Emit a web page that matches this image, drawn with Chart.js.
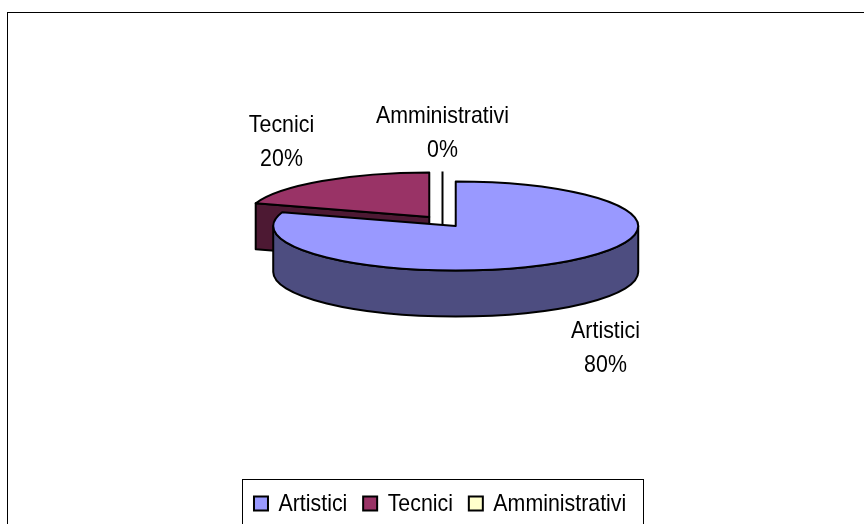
<!DOCTYPE html>
<html>
<head>
<meta charset="utf-8">
<script src="https://cdn.jsdelivr.net/npm/chart.js@4/dist/chart.umd.min.js"></script>
<style>
  html, body { margin: 0; padding: 0; background: #fff; width: 864px; height: 524px; overflow: hidden; }
  canvas { display: block; position: absolute; left: 0; top: -33px; }
</style>
</head>
<body>
<canvas id="torta" width="878" height="567"></canvas>
<script>
// dati
var categories = ["Artistici", "Tecnici", "Amministrativi"];
var values = [80, 20, 0];
var percentLabels = ["80%", "20%", "0%"];

var topColors = ["#9999FF", "#993366", "#FFFFCC"];
var sideColors = ["#4D4D80", "#4D1933", "#808066"];

var FONT = '24px "Liberation Sans", Arial, sans-serif';
var TEXT_NARROW = 0.89; // il testo originale e' alto e stretto
var RADIUS = 182.5;
var SQUASH = 0.244;   // schiacciamento della torta 3D
var DEPTH = 46;
var EXPLODE = 22.5;   // esplosione delle fette
var PAGE_SHIFT = 33;  // il canvas parte sopra la pagina
var PIE_SHIFT = 3.5;  // la legenda non e' centrata sotto la torta
// posizione delle etichette rispetto al centro della torta
var labelShift = [[163, 127], [-161, -79], [0, -88]];

function sliceGeometry(arc) {
  var mid = (arc.startAngle + arc.endAngle) / 2;
  return {
    x: arc.x + PIE_SHIFT + Math.cos(mid) * EXPLODE,
    y: arc.y + Math.sin(mid) * EXPLODE * SQUASH,
    rx: arc.outerRadius,
    ry: arc.outerRadius * SQUASH,
    start: arc.startAngle,
    end: arc.endAngle
  };
}

function edgePoint(g, angle) {
  return { x: g.x + Math.cos(angle) * g.rx, y: g.y + Math.sin(angle) * g.ry };
}

function drawSide(ctx, g, i) {
  ctx.fillStyle = sideColors[i];
  // parete esterna, solo la parte davanti (tra 0 e PI)
  var from = Math.max(g.start, 0);
  var to = Math.min(g.end, Math.PI);
  if (to > from) {
    ctx.beginPath();
    ctx.ellipse(g.x, g.y, g.rx, g.ry, 0, from, to);
    ctx.ellipse(g.x, g.y + DEPTH, g.rx, g.ry, 0, to, from, true);
    ctx.closePath();
    ctx.fill();
    ctx.stroke();
  }
  // faccia di taglio visibile
  if (g.end > g.start && g.start >= Math.PI) {
    var p = edgePoint(g, g.start);
    ctx.beginPath();
    ctx.moveTo(p.x, p.y);
    ctx.lineTo(g.x, g.y);
    ctx.lineTo(g.x, g.y + DEPTH);
    ctx.lineTo(p.x, p.y + DEPTH);
    ctx.closePath();
    ctx.fill();
    ctx.stroke();
  }
}

function drawTop(ctx, g, i) {
  ctx.fillStyle = topColors[i];
  ctx.beginPath();
  ctx.moveTo(g.x, g.y);
  ctx.ellipse(g.x, g.y, g.rx, g.ry, 0, g.start, g.end);
  ctx.closePath();
  ctx.fill();
  ctx.stroke();
}

function narrowText(ctx, text, x, y) {
  ctx.save();
  ctx.translate(x, y);
  ctx.scale(TEXT_NARROW, 1);
  ctx.fillText(text, 0, 0);
  ctx.restore();
}

var pie3d = {
  id: "pie3d",
  beforeDatasetsDraw: function (chart) {
    var ctx = chart.ctx;
    var arcs = chart.getDatasetMeta(0).data;
    ctx.save();
    ctx.lineWidth = 2;
    ctx.strokeStyle = "#000";
    ctx.lineJoin = "round";
    // prima le fette dietro, Artistici per ultima
    [1, 2, 0].forEach(function (i) {
      var g = sliceGeometry(arcs[i]);
      drawSide(ctx, g, i);
      if (values[i] === 0) {
        var p = edgePoint(g, g.start);
        ctx.beginPath();
        ctx.moveTo(p.x, p.y);
        ctx.lineTo(g.x, g.y + DEPTH);
        ctx.stroke();
      } else {
        drawTop(ctx, g, i);
      }
    });
    ctx.restore();
    return false;
  },
  afterDraw: function (chart) {
    var ctx = chart.ctx;
    var arcs = chart.getDatasetMeta(0).data;
    var legend = chart.legend;
    var boxes = legend.legendHitBoxes;
    var last = boxes[boxes.length - 1];
    var labelOpts = legend.options.labels;
    ctx.save();
    ctx.font = FONT;
    ctx.fillStyle = "#000";
    ctx.textBaseline = "middle";
    // etichette delle fette
    ctx.textAlign = "center";
    arcs.forEach(function (arc, i) {
      var x = arc.x + PIE_SHIFT + labelShift[i][0];
      var y = arc.y + labelShift[i][1];
      narrowText(ctx, categories[i], x, y - 17.25);
      narrowText(ctx, percentLabels[i], x, y + 17.25);
    });
    // testo della legenda
    ctx.textAlign = "left";
    boxes.forEach(function (b, i) {
      var x = b.left + labelOpts.boxWidth + labelOpts.font.size / 2;
      narrowText(ctx, categories[i], x, b.top + b.height / 2 + 1);
    });
    // cornice del grafico
    ctx.strokeStyle = "#000";
    ctx.lineWidth = 1;
    ctx.strokeRect(7.5, PAGE_SHIFT + 12.5, chart.width, chart.height - PAGE_SHIFT - 20);
    // cornice della legenda
    var left = Math.round(boxes[0].left - 12) + 0.5;
    var right = Math.round(last.left + last.width + 19) + 0.5;
    ctx.strokeRect(left, legend.top + 3.5, right - left, legend.height + 4);
    ctx.restore();
  }
};

new Chart(document.getElementById("torta"), {
  type: "pie",
  data: {
    labels: categories,
    datasets: [{
      data: values,
      backgroundColor: topColors,
      borderColor: "#000",
      borderWidth: 2,
      radius: RADIUS
    }]
  },
  options: {
    responsive: false,
    animation: false,
    layout: { padding: { bottom: 10 } },
    plugins: {
      tooltip: { enabled: false },
      legend: {
        display: true,
        position: "bottom",
        labels: {
          color: "rgba(0,0,0,0)", // il testo e' ridisegnato stretto dal plugin
          boxWidth: 14,
          boxHeight: 14,
          padding: 17,
          font: { family: '"Liberation Sans", Arial, sans-serif', size: 21 }
        }
      }
    }
  },
  plugins: [pie3d]
});
</script>
</body>
</html>
